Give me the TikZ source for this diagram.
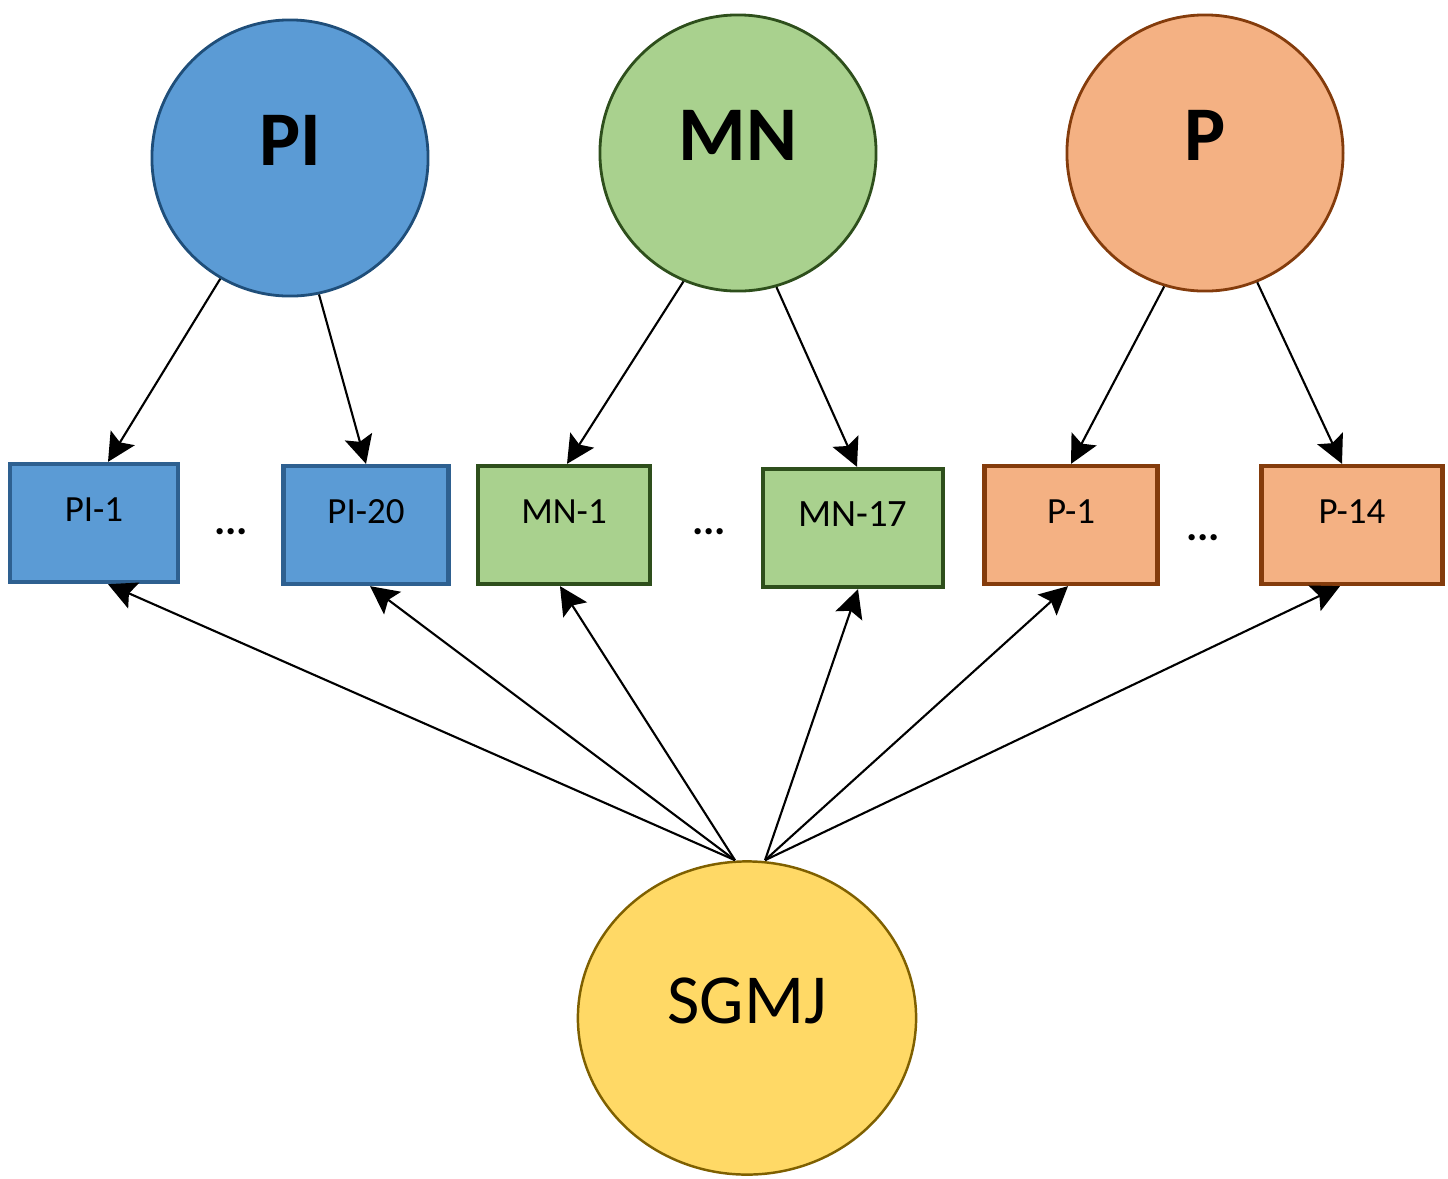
\documentclass[tikz,border=0pt]{standalone}
\usepackage{fontspec}
\setmainfont{Carlito}
\usetikzlibrary{arrows.meta,shapes.geometric}
\definecolor{bfill}{HTML}{5B9BD5}
\definecolor{bdraw}{HTML}{2E6090}
\definecolor{bcirc}{HTML}{1F4E79}
\definecolor{gfill}{HTML}{A9D18E}
\definecolor{gdraw}{HTML}{2E4F1C}
\definecolor{ofill}{HTML}{F4B183}
\definecolor{odraw}{HTML}{843C0C}
\definecolor{yfill}{HTML}{FFD966}
\definecolor{ydraw}{HTML}{7F6000}
\tikzset{
  bigcirc/.style={circle,minimum size=2.76cm,inner sep=0pt,line width=0.8pt,
    font=\fontsize{22}{24}\selectfont\bfseries,text height=0.5cm,text depth=0.36cm},
  box/.style={rectangle,line width=1.2pt,minimum height=1.18cm,inner xsep=0pt,inner ysep=0pt,
    text height=0.57cm,text depth=0.61cm,font=\fontsize{10.5}{12}\selectfont},
  dotsn/.style={anchor=base,font=\fontsize{12}{14}\selectfont\bfseries,inner sep=0pt},
  arr/.style={-{Stealth[length=8pt,width=8pt,inset=1.5pt]},line width=0.6pt,black},
}
\begin{document}
\begin{tikzpicture}[x=0.01cm,y=-0.01cm]
\useasboundingbox (0,0) rectangle (1448,1178);
% top circles
\node[bigcirc,fill=bfill,draw=bcirc] (PI) at (290,158) {PI};
\node[bigcirc,fill=gfill,draw=gdraw] (MN) at (738,153) {MN};
\node[bigcirc,fill=ofill,draw=odraw] (P) at (1205,153) {P};
% boxes
\node[box,fill=bfill,draw=bdraw,minimum width=1.68cm] (PI1) at (94,523) {PI-1};
\node[box,fill=bfill,draw=bdraw,minimum width=1.65cm] (PI20) at (366,525) {PI-20};
\node[box,fill=gfill,draw=gdraw,minimum width=1.72cm] (MN1) at (564,525) {MN-1};
\node[box,fill=gfill,draw=gdraw,minimum width=1.80cm,font=\fontsize{11}{13}\selectfont] (MN17) at (853,528) {MN-17};
\node[box,fill=ofill,draw=odraw,minimum width=1.73cm] (P1) at (1071,525) {P-1};
\node[box,fill=ofill,draw=odraw,minimum width=1.81cm] (P14) at (1352,525) {P-14};
% dots
\node[dotsn] (d1) at (231,534) {...};
\node[dotsn] (d2) at (709,534) {...};
\node[dotsn] (d3) at (1203,540) {...};
% bottom ellipse
\node[ellipse,minimum width=3.38cm,minimum height=3.13cm,inner sep=0pt,fill=yfill,draw=ydraw,line width=0.7pt,
  font=\fontsize{20}{22}\selectfont,text height=0.45cm,text depth=0.35cm] (SG) at (747,1018) {SGMJ};
\coordinate (sl) at ([xshift=-0.12cm]SG.north);
\coordinate (sr) at ([xshift=0.18cm]SG.north);
% arrows from circles
\draw[arr] (PI.240) -- ([xshift=0.14cm]PI1.north);
\draw[arr] (PI.282) -- (PI20.north);
\draw[arr] (MN.247) -- ([xshift=0.03cm]MN1.north);
\draw[arr] (MN.286) -- ([xshift=0.04cm]MN17.north);
\draw[arr] (P.253) -- (P1.north);
\draw[arr] (P.292) -- ([xshift=-0.10cm]P14.north);
% arrows from SGMJ
\draw[arr] (sl) -- ([xshift=0.14cm]PI1.south);
\draw[arr] (sl) -- ([xshift=0.04cm]PI20.south);
\draw[arr] (sl) -- ([xshift=-0.04cm]MN1.south);
\draw[arr] (sr) -- ([xshift=0.05cm]MN17.south);
\draw[arr] (sr) -- ([xshift=-0.03cm]P1.south);
\draw[arr] (sr) -- ([xshift=-0.12cm]P14.south);
\end{tikzpicture}
\end{document}
